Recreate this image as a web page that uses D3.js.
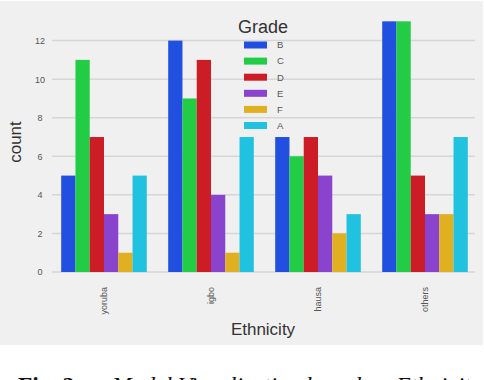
<!DOCTYPE html>
<html>
<head>
<meta charset="utf-8">
<script src="https://cdn.jsdelivr.net/npm/d3@7"></script>
<style>
  html, body { margin: 0; padding: 0; background: #fff; overflow: hidden; }
  svg { display: block; }
</style>
</head>
<body>
<svg id="chart" width="484" height="380"></svg>
<script>
// Data
const ethnicities = ["yoruba", "igbo", "hausa", "others"];
const grades = ["B", "C", "D", "E", "F", "A"];
const gradeColors = ["#2150e0", "#22cd45", "#cc1d27", "#8a43cc", "#e0b021", "#21c2e0"];
const countsB = [5, 12, 7, 13];
const countsC = [11, 9, 6, 13];
const countsD = [7, 11, 7, 5];
const countsE = [3, 4, 5, 3];
const countsF = [1, 1, 2, 3];
const countsA = [5, 7, 3, 7];
const yTicks = [0, 2, 4, 6, 8, 10, 12];

const series = [countsB, countsC, countsD, countsE, countsF, countsA];

const svg = d3.select("#chart");

// Gray figure background
svg.append("rect")
    .attr("x", 0).attr("y", 1)
    .attr("width", 483).attr("height", 344)
    .attr("fill", "#f0f0f0");

const x = d3.scaleBand()
    .domain(ethnicities)
    .range([50.5, 478.5]);

const xSub = d3.scaleBand()
    .domain(grades)
    .range([0, x.bandwidth() * 0.8]);

const y = d3.scaleLinear()
    .domain([0, 13.65])
    .range([272, 8.8]);

const color = d3.scaleOrdinal().domain(grades).range(gradeColors);

// Horizontal gridlines
svg.append("g")
    .selectAll("line")
    .data(yTicks)
    .join("line")
    .attr("x1", 52)
    .attr("x2", 475)
    .attr("y1", d => y(d))
    .attr("y2", d => y(d))
    .attr("stroke", "#d6d6d6")
    .attr("stroke-width", 1.5);

// Y tick labels
const yAxis = svg.append("g")
    .attr("transform", "translate(46,0)")
    .call(d3.axisLeft(y).tickValues(yTicks).tickSize(0).tickPadding(0));
yAxis.select(".domain").remove();
yAxis.selectAll("text")
    .attr("text-anchor", "middle")
    .attr("dx", "-6")
    .style("font-family", "Liberation Sans, Arial, sans-serif")
    .style("font-size", "9px")
    .attr("fill", "#555");

// Bars
const rows = [];
ethnicities.forEach((e, i) => {
    grades.forEach((g, j) => {
        rows.push({ eth: e, grade: g, value: series[j][i] });
    });
});

svg.append("g")
    .selectAll("rect")
    .data(rows)
    .join("rect")
    .attr("x", d => x(d.eth) + x.bandwidth() * 0.1 + xSub(d.grade))
    .attr("y", d => y(d.value))
    .attr("width", xSub.bandwidth())
    .attr("height", d => y(0) - y(d.value))
    .attr("fill", d => color(d.grade));

// X tick labels (rotated)
const xAxis = svg.append("g")
    .attr("transform", "translate(0,272)")
    .call(d3.axisBottom(x).tickSize(0).tickPadding(0));
xAxis.select(".domain").remove();
xAxis.selectAll("text")
    .attr("transform", "rotate(-90)")
    .attr("text-anchor", "end")
    .attr("x", -15)
    .attr("y", 0)
    .attr("dy", "0.32em")
    .style("font-family", "Liberation Sans, Arial, sans-serif")
    .style("font-size", "9px")
    .attr("fill", "#555");

// Axis titles
svg.append("text")
    .attr("x", 263)
    .attr("y", 335)
    .attr("text-anchor", "middle")
    .style("font-family", "Liberation Sans, Arial, sans-serif")
    .style("font-size", "17px")
    .attr("fill", "#333")
    .text("Ethnicity");

svg.append("text")
    .attr("transform", "translate(21,142) rotate(-90)")
    .attr("text-anchor", "middle")
    .style("font-family", "Liberation Sans, Arial, sans-serif")
    .style("font-size", "17px")
    .attr("fill", "#333")
    .text("count");

// Legend
const legend = svg.append("g").attr("transform", "translate(244,0)");
legend.append("text")
    .attr("x", -6)
    .attr("y", 33)
    .style("font-family", "Liberation Sans, Arial, sans-serif")
    .style("font-size", "18px")
    .attr("fill", "#333")
    .text("Grade");

const item = legend.selectAll("g.item")
    .data(grades)
    .join("g")
    .attr("class", "item")
    .attr("transform", (d, i) => `translate(0,${45 + i * 16.1})`);

item.append("rect")
    .attr("x", 0)
    .attr("y", -3.5)
    .attr("width", 23)
    .attr("height", 7)
    .attr("fill", d => color(d));

item.append("text")
    .attr("x", 33)
    .attr("y", 0)
    .attr("dy", "0.35em")
    .style("font-family", "Liberation Sans, Arial, sans-serif")
    .style("font-size", "9.5px")
    .attr("fill", "#555")
    .text(d => d);

// Figure caption (mostly cut off at the bottom, as in the reference)
const caption = svg.append("text")
    .attr("y", 392.5)
    .style("font-family", "Liberation Serif, Times New Roman, serif")
    .style("font-size", "23.5px")
    .attr("fill", "#111");
caption.append("tspan").attr("x", 18).style("font-weight", "bold").text("Fig. 2:");
caption.append("tspan").attr("x", 112).style("font-style", "italic").text("Model Visualization based on Ethnicity");
</script>
</body>
</html>
